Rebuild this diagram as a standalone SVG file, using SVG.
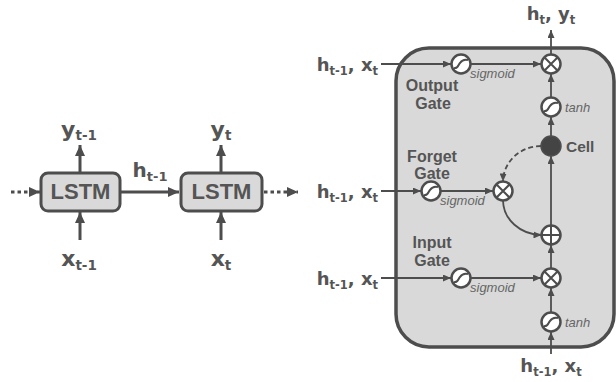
<svg xmlns="http://www.w3.org/2000/svg" width="616" height="382" viewBox="0 0 616 382">
<defs>
<style>
.t{font-family:"Liberation Sans",Arial,sans-serif;font-weight:bold;fill:#555555}
.v{font-family:"DejaVu Sans",Verdana,sans-serif;font-weight:bold;fill:#555555}
.it{font-family:"Liberation Sans",Arial,sans-serif;font-style:italic;fill:#666666;font-size:13px}
.thin{stroke:#4d4d4d;stroke-width:1.8;fill:none}
.thick{stroke:#4d4d4d;stroke-width:3;fill:none}
.op{fill:#ffffff;stroke:#4d4d4d;stroke-width:2.5}
.box{fill:#d9d9d9;stroke:#4d4d4d;stroke-width:3}
.g{stroke:#4d4d4d;stroke-width:2;fill:none}
</style>
<marker id="a" markerUnits="userSpaceOnUse" markerWidth="8" markerHeight="7" refX="8" refY="3.5" orient="auto"><path d="M0,0 L8,3.5 L0,7 z" fill="#4d4d4d"/></marker>
<marker id="A" markerUnits="userSpaceOnUse" markerWidth="11" markerHeight="10" refX="11" refY="5" orient="auto"><path d="M0,0 L11,5 L0,10 z" fill="#4d4d4d"/></marker>
<path id="sg" d="M-7,4 C-3,5 -3,1 -1,-1 C1,-4 3,-5 7,-4"/>
</defs>

<g id="lstm-unrolled">
<g id="lstm1">
<rect class="box" x="41" y="173" width="79" height="38" rx="7"/>
<text class="t" x="80.5" y="199" font-size="22" text-anchor="middle">LSTM</text>
</g>
<g id="lstm2">
<rect class="box" x="181" y="173" width="81" height="38" rx="7"/>
<text class="t" x="221.5" y="199" font-size="22" text-anchor="middle">LSTM</text>
</g>
<g id="label-y-prev"><text class="v" x="79" y="137" font-size="22" text-anchor="middle">y<tspan dy="3" font-size="13.5">t-1</tspan></text></g>
<g id="label-y"><text class="v" x="221" y="137" font-size="22" text-anchor="middle">y<tspan dy="3" font-size="13.5">t</tspan></text></g>
<g id="label-x-prev"><text class="v" x="79" y="266" font-size="22" text-anchor="middle">x<tspan dy="4" font-size="13.5">t-1</tspan></text></g>
<g id="label-x"><text class="v" x="221" y="266" font-size="22" text-anchor="middle">x<tspan dy="4" font-size="13.5">t</tspan></text></g>
<g id="label-h-prev"><text class="v" x="150" y="177" font-size="20" text-anchor="middle">h<tspan dy="4" font-size="13">t-1</tspan></text></g>
</g>

<g id="cell-box">
<rect x="396" y="48" width="218" height="299" rx="33" fill="#d9d9d9" stroke="#4d4d4d" stroke-width="3.5"/>
</g>

<g id="connectors">
<path class="thick" d="M11,192 H40" stroke-dasharray="3.5,3" marker-end="url(#A)"/>
<path class="thick" d="M120,192 H179" marker-end="url(#A)"/>
<path class="thick" d="M264,192 H298" stroke-dasharray="3.5,3" marker-end="url(#A)"/>
<path class="thick" d="M80,173 V145" marker-end="url(#A)"/>
<path class="thick" d="M221,173 V145" marker-end="url(#A)"/>
<path class="thick" d="M80,240 V212" marker-end="url(#A)"/>
<path class="thick" d="M221,240 V212" marker-end="url(#A)"/>

<path class="thin" d="M381,64 H451" marker-end="url(#a)"/>
<path class="thin" d="M471,64 H541" marker-end="url(#a)"/>
<path class="thin" d="M551,54 V30" marker-end="url(#a)"/>
<path class="thin" d="M551,97 V74" marker-end="url(#a)"/>
<path class="thin" d="M551,136 V117" marker-end="url(#a)"/>
<path class="thin" d="M551,225 V156" marker-end="url(#a)"/>
<path class="thin" d="M551,268 V245" marker-end="url(#a)"/>
<path class="thin" d="M551,312 V288" marker-end="url(#a)"/>
<path class="thin" d="M551,354 V332" marker-end="url(#a)"/>
<path class="thin" d="M381,191 H421" marker-end="url(#a)"/>
<path class="thin" d="M441,191 H493" marker-end="url(#a)"/>
<path class="thin" d="M381,278 H451" marker-end="url(#a)"/>
<path class="thin" d="M471,278 H541" marker-end="url(#a)"/>
<path class="thin" d="M541,146 A38,36 0 0 0 503,181.5" stroke-dasharray="5,3" marker-end="url(#a)"/>
<path class="thin" d="M503,200.5 A39,35 0 0 0 541.5,235" marker-end="url(#a)"/>
</g>

<g id="output-sigmoid"><circle class="op" cx="461" cy="64" r="9.5"/><use href="#sg" class="g" x="461" y="64"/></g>
<g id="output-multiply"><circle class="op" cx="551" cy="64" r="9.5"/><path class="g" stroke-width="2.2" d="M544.3,57.3 L557.7,70.7 M557.7,57.3 L544.3,70.7"/></g>
<g id="output-tanh"><circle class="op" cx="551" cy="107" r="9.5"/><use href="#sg" class="g" x="551" y="107"/></g>
<g id="cell"><circle cx="551" cy="146" r="10" fill="#444444" stroke="#4d4d4d" stroke-width="1.5"/></g>
<g id="forget-sigmoid"><circle class="op" cx="431" cy="191" r="9.5"/><use href="#sg" class="g" x="431" y="191"/></g>
<g id="forget-multiply"><circle class="op" cx="503" cy="191" r="9.5"/><path class="g" stroke-width="2.2" d="M496.3,184.3 L509.7,197.7 M509.7,184.3 L496.3,197.7"/></g>
<g id="plus"><circle class="op" cx="551" cy="235" r="9.5"/><path class="g" stroke-width="2.2" d="M541.5,235 H560.5 M551,225.5 V244.5"/></g>
<g id="input-sigmoid"><circle class="op" cx="461" cy="278" r="9.5"/><use href="#sg" class="g" x="461" y="278"/></g>
<g id="input-multiply"><circle class="op" cx="551" cy="278" r="9.5"/><path class="g" stroke-width="2.2" d="M544.3,271.3 L557.7,284.7 M557.7,271.3 L544.3,284.7"/></g>
<g id="input-tanh"><circle class="op" cx="551" cy="322" r="9.5"/><use href="#sg" class="g" x="551" y="322"/></g>

<g id="labels">
<text class="it" x="470" y="78">sigmoid</text>
<text class="it" x="440" y="205">sigmoid</text>
<text class="it" x="470" y="292">sigmoid</text>
<text class="it" x="565" y="112">tanh</text>
<text class="it" x="565" y="327">tanh</text>
<text class="t" x="566" y="152" font-size="15.5">Cell</text>
<text class="t" x="432" y="91" font-size="16" text-anchor="middle">Output</text>
<text class="t" x="433" y="109" font-size="16" text-anchor="middle">Gate</text>
<text class="t" x="432" y="162" font-size="16" text-anchor="middle">Forget</text>
<text class="t" x="432" y="179" font-size="16" text-anchor="middle">Gate</text>
<text class="t" x="432" y="248" font-size="16" text-anchor="middle">Input</text>
<text class="t" x="432" y="266" font-size="16" text-anchor="middle">Gate</text>
<text class="v" x="378" y="71" font-size="18" text-anchor="end">h<tspan dy="4" font-size="11.5">t-1</tspan><tspan dy="-4">, x</tspan><tspan dy="4" font-size="11.5">t</tspan></text>
<text class="v" x="378" y="198" font-size="18" text-anchor="end">h<tspan dy="4" font-size="11.5">t-1</tspan><tspan dy="-4">, x</tspan><tspan dy="4" font-size="11.5">t</tspan></text>
<text class="v" x="378" y="285" font-size="18" text-anchor="end">h<tspan dy="4" font-size="11.5">t-1</tspan><tspan dy="-4">, x</tspan><tspan dy="4" font-size="11.5">t</tspan></text>
<text class="v" x="551" y="20" font-size="18" text-anchor="middle">h<tspan dy="4" font-size="11.5">t</tspan><tspan dy="-4">, y</tspan><tspan dy="4" font-size="11.5">t</tspan></text>
<text class="v" x="551" y="372" font-size="18" text-anchor="middle">h<tspan dy="4" font-size="11.5">t-1</tspan><tspan dy="-4">, x</tspan><tspan dy="4" font-size="11.5">t</tspan></text>
</g>
</svg>
